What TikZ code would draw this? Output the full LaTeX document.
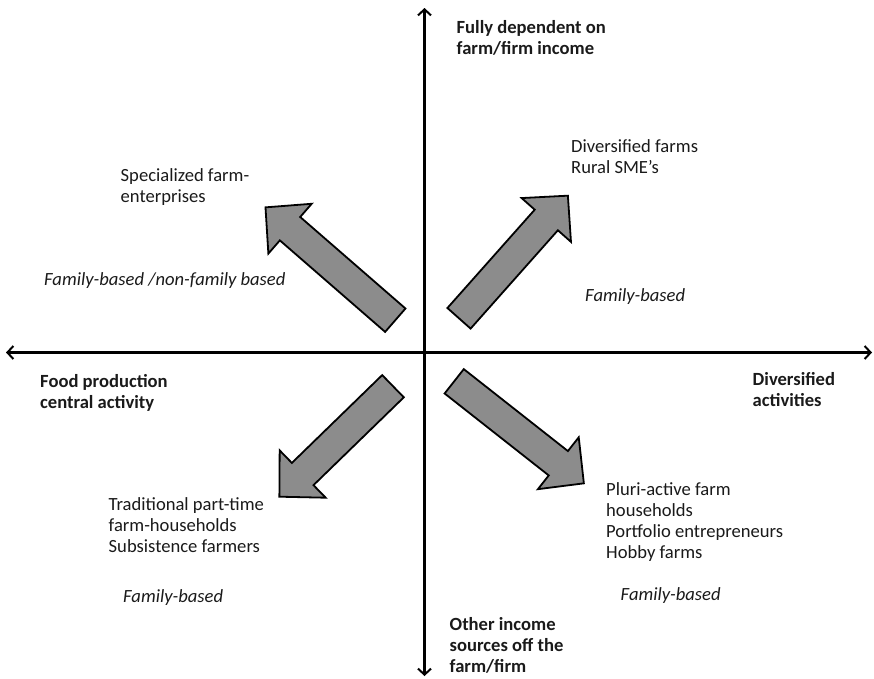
\documentclass[tikz,border=0pt]{standalone}
\usepackage{fontspec}
\setmainfont{Carlito}
\usetikzlibrary{arrows.meta}

\definecolor{arrowfill}{RGB}{140,140,140}
\definecolor{ink}{RGB}{26,26,26}

\tikzset{
  axis/.style={line width=2.2pt, {Straight Barb[length=6pt,width=13pt,line width=2pt]}-{Straight Barb[length=6pt,width=13pt,line width=2pt]}},
  label/.style={anchor=north west, inner sep=0pt, align=left, text=ink, font=\fontsize{18.6}{21.2}\selectfont},
  axislabel/.style={label, font=\fontsize{18.6}{21.2}\selectfont\bfseries},
  note/.style={label, font=\fontsize{18.6}{21.2}\selectfont\itshape},
  arrowbody/.style={fill=arrowfill, draw=black, line width=1.8pt, line join=miter},
  % broad block arrow: tail centre at the origin, pointing along +x, total length #1
  fatarrow/.pic={
    \path[arrowbody] (0,-15.5) -- ({#1-32.5},-15.5) -- ({#1-32.5},-33) -- (#1,0)
      -- ({#1-32.5},33) -- ({#1-32.5},15.5) -- (0,15.5) -- cycle;
  }
}

\begin{document}
\begin{tikzpicture}[x=1pt,y=-1pt]
  \useasboundingbox (0,0) rectangle (874,678);

  % axes
  \coordinate (top) at (424.5,8);
  \coordinate (bottom) at (424.5,676);
  \coordinate (left) at (6,352.5);
  \coordinate (right) at (872,352.5);
  \draw[axis] (bottom) -- (top);
  \draw[axis] (left) -- (right);

  % quadrant arrows
  \pic[rotate=139]   at (395.3,320.2) {fatarrow=172};
  \pic[rotate=48.4]  at (459,318.3)   {fatarrow=164};
  \pic[rotate=224.2] at (393,386.2)   {fatarrow=158.5};
  \pic[rotate=-38.2] at (454.2,381.3) {fatarrow=165};

  % axis labels
  \node[axislabel] (ytop) at (456.5,20.5) {Fully dependent on\\farm/firm income};
  \node[axislabel] (ybot) at (449.5,617) {Other income\\sources off the\\farm/firm};
  \node[axislabel] (xleft) at (40,374) {Food production\\central activity};
  \node[axislabel] (xright) at (752.5,372) {Diversified\\activities};

  % quadrant contents
  \node[label] (nw) at (120.5,168) {Specialized farm-\\enterprises};
  \node[note]  (nwf) at (44,272) {Family-based /non-family based};
  \node[label] (ne) at (571,139.5) {Diversified farms\\Rural SME’s};
  \node[note]  (nef) at (585,288) {Family-based};
  \node[label] (sw) at (108.5,497) {Traditional part-time\\farm-households\\Subsistence farmers};
  \node[note]  (swf) at (123,589) {Family-based};
  \node[label] (se) at (606,482) {Pluri-active farm\\households\\Portfolio entrepreneurs\\Hobby farms};
  \node[note]  (sef) at (620.5,587) {Family-based};
\end{tikzpicture}
\end{document}
